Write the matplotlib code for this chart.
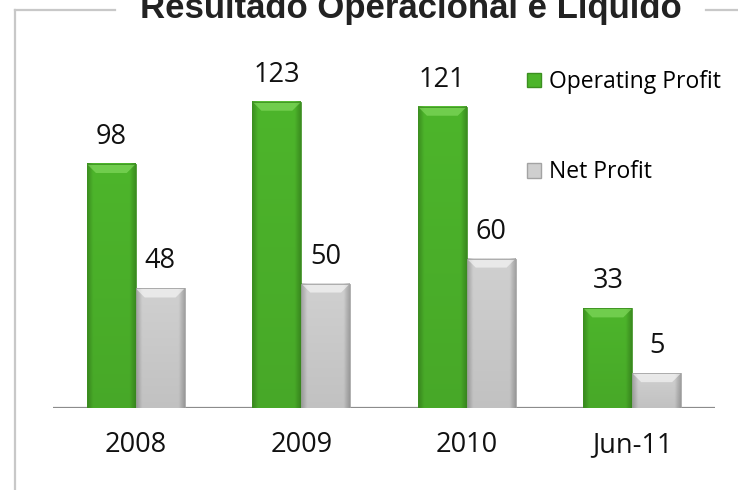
import numpy as np
import matplotlib
matplotlib.use("Agg")
import matplotlib.pyplot as plt
from matplotlib.patches import Polygon

# values (bar heights as drawn, labels as printed)
categories = ["2008", "2009", "2010", "Jun-11"]
operating_bars = [98, 123, 121, 40]
net_bars = [48, 50, 60, 14]
operating_labels = ["98", "123", "121", "33"]
net_labels = ["48", "50", "60", "5"]
series_names = ["Operating Profit", "Net Profit"]
title = "Resultado Operacional e Líquido"

W, H = 738, 490
PX_PER_UNIT = 2.49

fig = plt.figure(figsize=(W / 100, H / 100), dpi=100)


def fx(px):
    return px / W


def fy(py):
    return 1 - py / H


# axes placed so the baseline sits at y=408 px
ax_top, ax_base = 60, 408
ax = fig.add_axes([fx(53), fy(ax_base), fx(715) - fx(53), (ax_base - ax_top) / H])
ax.set_xlim(-0.5, 3.5)
ax.set_ylim(0, (ax_base - ax_top) / PX_PER_UNIT)
ax.axis("off")

x = np.arange(len(categories))
bw = 0.295
green_bars = ax.bar(x - bw / 2, operating_bars, bw, color="#4db52b", zorder=2,
                    label=series_names[0])
gray_bars = ax.bar(x + bw / 2, net_bars, bw, color="#cfcfcf", zorder=2,
                   label=series_names[1])


def shade(bars, base, edge, bevel):
    base = np.array(matplotlib.colors.to_rgb(base))
    edge = np.array(matplotlib.colors.to_rgb(edge))
    bevel = matplotlib.colors.to_rgb(bevel)
    nx = 60
    t = np.linspace(-1, 1, nx)
    mix = np.clip((np.abs(t) - 0.75) / 0.25, 0, 1)[None, :, None]
    ny = 50
    v = np.linspace(0, 1, ny)[:, None, None]
    img = base * (1 - mix) + edge * mix
    img = img * (0.93 + 0.07 * v)
    img = np.clip(img, 0, 1)
    bh = 9 / PX_PER_UNIT
    bx = 9 / 165.5
    for b in bars:
        x0, w, h = b.get_x(), b.get_width(), b.get_height()
        b.set_visible(True)
        ax.imshow(img, extent=(x0, x0 + w, 0, h), aspect="auto",
                  origin="lower", zorder=3, interpolation="bilinear")
        b.set_edgecolor(edge)
        b.set_linewidth(0.6)
        b.set_zorder(4)
        b.set_facecolor("none")
        ax.add_patch(Polygon([(x0, h), (x0 + w, h), (x0 + w - bx, h - bh),
                              (x0 + bx, h - bh)], closed=True,
                             facecolor=bevel, edgecolor="none", alpha=0.55,
                             zorder=3.5))


shade(green_bars, "#4db52b", "#3c8f20", "#8fe36a")
shade(gray_bars, "#d0d0d0", "#a3a3a3", "#ffffff")

# legend handles keep a solid swatch
from matplotlib.patches import Patch
handles = [Patch(facecolor="#4db52b", edgecolor="#3c8f20"),
           Patch(facecolor="#cfcfcf", edgecolor="#a3a3a3")]
fig.legend(handles, series_names, loc="upper left",
           bbox_to_anchor=(fx(527), fy(70)), bbox_transform=fig.transFigure,
           frameon=False, borderpad=0, borderaxespad=0,
           handlelength=0.6, handleheight=0.6, handletextpad=0.35,
           labelspacing=2.9,
           prop={"family": "Open Sans", "size": 16.5})

# data labels
lab_font = {"family": "Open Sans", "size": 19.5, "color": "#111111"}
off = 20 / PX_PER_UNIT
for b, t in zip(green_bars, operating_labels):
    ax.text(b.get_x() + b.get_width() / 2, b.get_height() + off, t,
            ha="center", va="baseline", **lab_font)
for b, t in zip(gray_bars, net_labels):
    ax.text(b.get_x() + b.get_width() / 2, b.get_height() + off, t,
            ha="center", va="baseline", **lab_font)

# category labels
for xi, c in zip(x, categories):
    ax.text(xi, -(445 - ax_base) / PX_PER_UNIT, c, ha="center", va="center",
            **lab_font)

# baseline
ax.axhline(0, color="#8c8c8c", lw=1.6, zorder=1)

# frame around the chart, broken by the title
frame = "#c8c8c8"
fig.add_artist(plt.Line2D([fx(15), fx(15)], [fy(10), 0], color=frame, lw=1.6))
fig.add_artist(plt.Line2D([fx(15), fx(115)], [fy(10), fy(10)], color=frame, lw=1.6))
fig.add_artist(plt.Line2D([fx(706), 1], [fy(10), fy(10)], color=frame, lw=1.6))

fig.text(fx(411), fy(18), title, ha="center", va="baseline",
         family="Liberation Sans", weight="bold", size=25, color="#222222")

fig.savefig("out.png", dpi=100)
